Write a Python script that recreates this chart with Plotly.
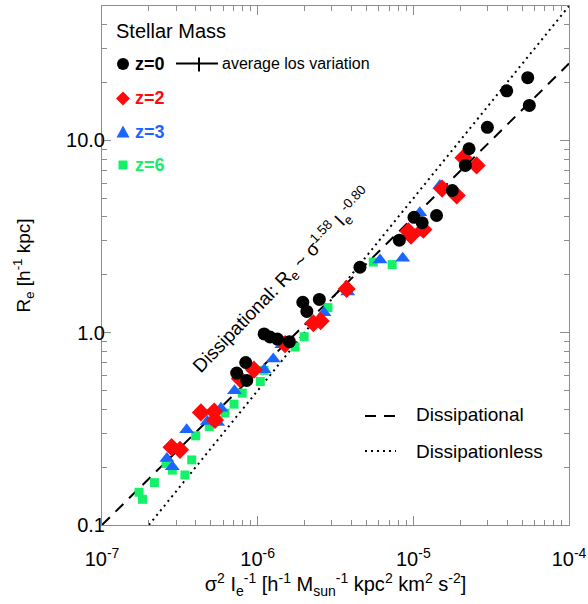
import plotly.graph_objects as go

# ---------------- data ----------------
z0_x = [7.33e-7, 8.38e-7, 8.51e-7, 1.10e-6, 1.20e-6, 1.34e-6, 1.60e-6, 1.95e-6, 2.07e-6, 2.49e-6,
        4.54e-6, 8.13e-6, 1.01e-5, 1.14e-5, 1.41e-5, 1.78e-5, 2.16e-5, 2.28e-5, 2.99e-5, 3.98e-5,
        5.43e-5, 5.56e-5]
z0_y = [0.617, 0.70, 0.565, 0.985, 0.95, 0.927, 0.898, 1.44, 1.29, 1.49,
        2.19, 3.03, 3.98, 3.73, 4.07, 5.49, 7.41, 9.05, 11.7, 18.1,
        21.2, 15.2]

z2_x = [2.80e-7, 3.17e-7, 4.32e-7, 5.26e-7, 5.32e-7, 7.70e-7, 9.47e-7, 1.50e-6, 2.28e-6, 2.54e-6,
        3.73e-6, 9.29e-6, 9.66e-6, 1.16e-5, 1.53e-5, 1.90e-5, 2.10e-5, 2.55e-5]
z2_y = [0.254, 0.246, 0.385, 0.389, 0.352, 0.576, 0.642, 0.873, 1.12, 1.15,
        1.69, 3.37, 3.20, 3.44, 5.62, 5.17, 8.13, 7.41]

z3_x = [2.61e-7, 2.83e-7, 3.50e-7, 4.75e-7, 5.53e-7, 5.81e-7, 7.10e-7, 1.10e-6, 1.26e-6, 1.43e-6,
        2.67e-6, 3.79e-6, 6.11e-6, 8.55e-6, 1.08e-5, 1.10e-5, 1.48e-5]
z3_y = [0.222, 0.201, 0.313, 0.345, 0.341, 0.405, 0.499, 0.642, 0.729, 0.866,
        1.27, 1.63, 2.39, 2.44, 3.30, 4.20, 5.83]

z6_x = [1.73e-7, 1.82e-7, 2.17e-7, 2.58e-7, 2.83e-7, 3.41e-7, 3.77e-7, 4.00e-7, 4.89e-7, 6.17e-7,
        7.05e-7, 7.96e-7, 1.04e-6, 1.10e-6, 1.74e-6, 1.99e-6, 2.83e-6, 5.53e-6, 7.31e-6]
z6_y = [0.148, 0.136, 0.166, 0.209, 0.193, 0.182, 0.218, 0.291, 0.325, 0.382,
        0.425, 0.485, 0.557, 0.637, 0.843, 0.953, 1.35, 2.33, 2.26]

# model relations (straight lines in log-log space, end points)
dissipational_x = [1e-7, 1e-4]
dissipational_y = [0.1, 25.1]
dissipationless_x = [2e-7, 1e-4]
dissipationless_y = [0.1, 50.0]

x_tickvals = [1e-7, 1e-6, 1e-5, 1e-4]
x_ticktext = ["10<sup>-7</sup>", "10<sup>-6</sup>", "10<sup>-5</sup>", "10<sup>-4</sup>"]
y_tickvals = [0.1, 1.0, 10.0]
y_ticktext = ["0.1", "1.0", "10.0"]

# ---------------- styling ----------------
RED = "#ff0a0a"
BLUE = "#1a66ff"
GREEN = "#14f068"
FONT = "Liberation Sans, Arial, Helvetica, sans-serif"
AXIS_GREY = "#8c8c8c"

x_minor = [k * 10.0 ** e for e in (-7, -6, -5) for k in range(2, 10)]
y_minor = [k * 10.0 ** e for e in (-1, 0) for k in range(2, 10)] + [20, 30, 40, 50]

fig = go.Figure()

fig.add_trace(go.Scatter(x=dissipational_x, y=dissipational_y, mode="lines",
                         line=dict(color="black", width=2, dash="11px,8px"),
                         hoverinfo="skip", showlegend=False))
fig.add_trace(go.Scatter(x=dissipationless_x, y=dissipationless_y, mode="lines",
                         line=dict(color="black", width=2, dash="2px,4px"),
                         hoverinfo="skip", showlegend=False))

fig.add_trace(go.Scatter(x=z6_x, y=z6_y, mode="markers", name="z=6",
                         marker=dict(symbol="square", size=9, color=GREEN, line=dict(width=0))))
fig.add_trace(go.Scatter(x=z3_x, y=z3_y, mode="markers", name="z=3",
                         marker=dict(symbol="triangle-up", size=13, color=BLUE, line=dict(width=0))))
fig.add_trace(go.Scatter(x=z2_x, y=z2_y, mode="markers", name="z=2",
                         marker=dict(symbol="diamond", size=14, color=RED, line=dict(width=0))))
fig.add_trace(go.Scatter(x=z0_x, y=z0_y, mode="markers", name="z=0",
                         marker=dict(symbol="circle", size=13, color="black", line=dict(width=0))))

W, H = 588, 604
ML, MR, MT, MB = 102, 19, 6, 79
PW, PH = W - ML - MR, H - MT - MB


def px(xp):
    return (xp - ML) / PW


def py(yp):
    return (H - MB - yp) / PH


shapes = []
annotations = []

# custom legend (upper left)
annotations.append(dict(x=px(114), y=py(31), xref="paper", yref="paper", text="Stellar Mass",
                        showarrow=False, xanchor="left", yanchor="middle",
                        font=dict(size=20, color="black", family=FONT)))

rows = [("z=0", "black", 64.0), ("z=2", RED, 98.5), ("z=3", BLUE, 132.0), ("z=6", GREEN, 165.0)]
mx = 123
for label, col, ry in rows:
    annotations.append(dict(x=px(133), y=py(ry), xref="paper", yref="paper", text="<b>" + label + "</b>",
                            showarrow=False, xanchor="left", yanchor="middle",
                            font=dict(size=18, color=col, family=FONT)))

common = dict(xref="paper", yref="paper", xsizemode="pixel", ysizemode="pixel", line=dict(width=0))
shapes.append(dict(type="circle", xanchor=px(mx), yanchor=py(64.0), x0=-6, x1=6, y0=-6, y1=6,
                   fillcolor="black", **common))
shapes.append(dict(type="path", xanchor=px(mx), yanchor=py(98.5),
                   path="M 0,-7 L 7,0 L 0,7 L -7,0 Z", fillcolor=RED, **common))
shapes.append(dict(type="path", xanchor=px(mx), yanchor=py(132.0),
                   path="M -6.5,-5.5 L 6.5,-5.5 L 0,6.5 Z", fillcolor=BLUE, **common))
shapes.append(dict(type="rect", xanchor=px(mx), yanchor=py(165.0), x0=-4.5, x1=4.5, y0=-4.5, y1=4.5,
                   fillcolor=GREEN, **common))

# average los variation symbol
shapes.append(dict(type="line", xref="paper", yref="paper", x0=px(176), x1=px(218), y0=py(63.5), y1=py(63.5),
                   line=dict(color="black", width=2)))
shapes.append(dict(type="line", xref="paper", yref="paper", x0=px(199), x1=px(199), y0=py(57.5), y1=py(71.5),
                   line=dict(color="black", width=2)))
annotations.append(dict(x=px(220), y=py(63), xref="paper", yref="paper", text="average los variation",
                        showarrow=False, xanchor="left", yanchor="middle",
                        font=dict(size=16, color="black", family=FONT)))

# line legend (lower right)
shapes.append(dict(type="line", xref="paper", yref="paper", x0=px(365), x1=px(398), y0=py(416), y1=py(416),
                   line=dict(color="black", width=2, dash="11px,8px")))
shapes.append(dict(type="line", xref="paper", yref="paper", x0=px(365), x1=px(396), y0=py(451), y1=py(451),
                   line=dict(color="black", width=2, dash="2px,4px")))
annotations.append(dict(x=px(414), y=py(414), xref="paper", yref="paper", text="Dissipational",
                        showarrow=False, xanchor="left", yanchor="middle",
                        font=dict(size=19, color="black", family=FONT)))
annotations.append(dict(x=px(414), y=py(451), xref="paper", yref="paper", text="Dissipationless",
                        showarrow=False, xanchor="left", yanchor="middle",
                        font=dict(size=19, color="black", family=FONT)))

# rotated relation label
annotations.append(dict(x=px(282), y=py(281), xref="paper", yref="paper",
                        text="Dissipational: R<sub>e</sub> ~ σ<sup>1.58</sup> I<sub>e</sub><sup>-0.80</sup>",
                        showarrow=False, textangle=-46, xanchor="center", yanchor="middle",
                        font=dict(size=19, color="black", family=FONT)))

axis_common = dict(type="log", showline=True, linecolor=AXIS_GREY, linewidth=1, mirror="allticks",
                   ticks="inside", ticklen=9, tickwidth=1, tickcolor=AXIS_GREY, showgrid=False,
                   zeroline=False, automargin=False, tickfont=dict(size=20, color="black", family=FONT))

fig.update_layout(
    width=W, height=H,
    margin=dict(l=ML, r=MR, t=MT, b=MB, pad=0),
    paper_bgcolor="white", plot_bgcolor="white",
    showlegend=False,
    font=dict(family=FONT, color="black"),
    shapes=shapes, annotations=annotations,
    xaxis=dict(range=[-7, -4], tickmode="array", tickvals=x_tickvals, ticktext=x_ticktext,
               ticklabelstandoff=16,
               minor=dict(tickmode="array", tickvals=x_minor, ticks="inside", ticklen=5,
                          tickcolor=AXIS_GREY, showgrid=False),
               title=dict(text="σ<sup>2</sup> I<sub>e</sub><sup>-1</sup> [h<sup>-1</sup> M<sub>sun</sub><sup>-1</sup> kpc<sup>2</sup> km<sup>2</sup> s<sup>-2</sup>]",
                          font=dict(size=20, family=FONT), standoff=0),
               **axis_common),
    yaxis=dict(range=[-1, 1.699], tickmode="array", tickvals=y_tickvals, ticktext=y_ticktext,
               ticklabelstandoff=-8,
               minor=dict(tickmode="array", tickvals=y_minor, ticks="inside", ticklen=5,
                          tickcolor=AXIS_GREY, showgrid=False),
               title=dict(text="R<sub>e</sub> [h<sup>-1</sup> kpc]", font=dict(size=19, family=FONT), standoff=30),
               **axis_common),
)

fig.write_html("out.html", config={"displayModeBar": False},
               post_script="document.body.style.margin='0';document.body.style.padding='0';")
